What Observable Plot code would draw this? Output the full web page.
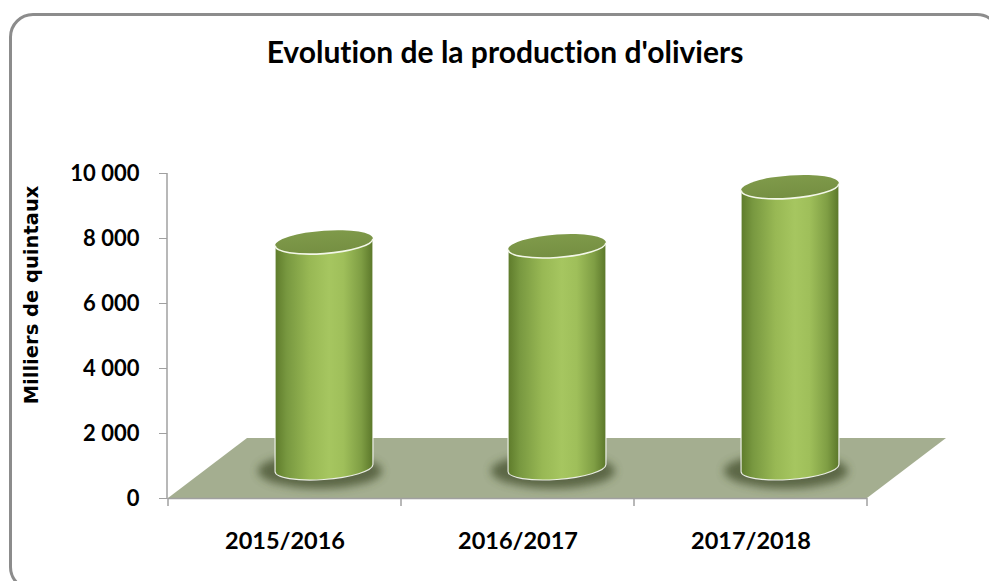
<!DOCTYPE html>
<html>
<head>
<meta charset="utf-8">
<script src="https://cdn.jsdelivr.net/npm/d3@7"></script>
<script src="https://cdn.jsdelivr.net/npm/@observablehq/plot@0.6"></script>
<style>
html, body { margin: 0; padding: 0; background: #fff; }
#wrap { position: relative; width: 989px; height: 581px; overflow: hidden; background: #fff; }
#chart { position: absolute; left: 0; top: 0; }
#chart svg text { font-variant-ligatures: none; }
#frame { position: absolute; left: 8.5px; top: 12.5px; width: 992.5px; height: 578.5px; border: 3px solid #8c8c8c; border-radius: 24px; box-sizing: border-box; pointer-events: none; }
#title { position: absolute; top: 33px; left: 505px; transform: translateX(-50%); font: bold 30px Lato, sans-serif; line-height: normal; white-space: nowrap; color: #000; font-variant-ligatures: none; }
</style>
</head>
<body>
<div id="wrap">
  <div id="chart"></div>
  <div id="frame"></div>
  <div id="title"></div>
</div>
<script>
// ---- data ----
const chartTitle = "Evolution de la production d'oliviers";
const yLabel = "Milliers de quintaux";
const categories = ["2015/2016", "2016/2017", "2017/2018"];
const production = [6950, 6830, 8650];
const yTicks = [0, 2000, 4000, 6000, 8000, 10000];

// ---- styling constants ----
const DEPTH_X = 79, DEPTH_Y = 60;   // 3D floor depth (pixels)
const TILT = -4;                    // perspective tilt of cylinder ends (degrees)
const AXIS_GREY = "#a0a0a0";

document.getElementById("title").textContent = chartTitle;

const fmt = d3.formatLocale({decimal: ",", thousands: "\u00a0", grouping: [3], currency: ["", "€"]}).format(",d");
const data = categories.map((c, i) => ({cat: c, value: production[i]}));

function bandOf(scales, dimensions) {
  const x = scales.x;
  let bw = x && (typeof x.bandwidth === "function" ? x.bandwidth() : x.bandwidth);
  if (!(bw > 0)) bw = (dimensions.width - dimensions.marginLeft - dimensions.marginRight) / categories.length;
  return bw;
}

// floor, front axis line, category boundary ticks, left axis line
function floorMark(index, scales, values, dimensions) {
  const bw = bandOf(scales, dimensions);
  const g = d3.create("svg:g").attr("aria-label", "floor");
  const x0 = scales.x(categories[0]);
  const x1 = scales.x(categories[categories.length - 1]) + bw;
  const y0 = scales.y(0);
  const yTop = scales.y(yTicks[yTicks.length - 1]);
  g.append("path")
    .attr("d", `M${x0},${y0}L${x1},${y0}L${x1 + DEPTH_X},${y0 - DEPTH_Y}L${x0 + DEPTH_X},${y0 - DEPTH_Y}Z`)
    .attr("fill", "#a4ae90");
  g.append("line").attr("x1", x0).attr("x2", x1).attr("y1", y0 + 0.5).attr("y2", y0 + 0.5)
    .attr("stroke", AXIS_GREY).attr("stroke-width", 1.5);
  const bounds = categories.map(c => scales.x(c)).concat([x1]);
  for (const bx of bounds) {
    g.append("line").attr("x1", bx).attr("x2", bx).attr("y1", y0).attr("y2", y0 + 8)
      .attr("stroke", AXIS_GREY).attr("stroke-width", 1.5);
  }
  g.append("line").attr("x1", x0 - 1).attr("x2", x0 - 1).attr("y1", yTop).attr("y2", y0 + 1)
    .attr("stroke", AXIS_GREY).attr("stroke-width", 1.5);
  return g.node();
}

// 3D cylinders
function cylinderMark(index, scales, values, dimensions) {
  const bw = bandOf(scales, dimensions);
  const g = d3.create("svg:g").attr("aria-label", "cylinders");
  const defs = g.append("defs");
  const grad = defs.append("linearGradient").attr("id", "cylGrad")
    .attr("x1", 0).attr("x2", 1).attr("y1", 0).attr("y2", 0);
  [[0, "#5e7b2b"], [0.12, "#789840"], [0.35, "#98b854"], [0.55, "#a6c660"],
   [0.7, "#9fbf5a"], [0.88, "#7f9e44"], [1, "#5b772a"]].forEach(([o, c]) =>
    grad.append("stop").attr("offset", o).attr("stop-color", c));
  const topGrad = defs.append("linearGradient").attr("id", "cylTop")
    .attr("x1", 0).attr("x2", 0).attr("y1", 0).attr("y2", 1);
  topGrad.append("stop").attr("offset", 0).attr("stop-color", "#7f9a4a");
  topGrad.append("stop").attr("offset", 1).attr("stop-color", "#758f42");
  const filt = defs.append("filter").attr("id", "cylShadow")
    .attr("x", "-50%").attr("y", "-50%").attr("width", "200%").attr("height", "200%");
  filt.append("feGaussianBlur").attr("stdDeviation", 4);

  data.forEach(d => {
    const rx = bw * 0.21;
    const ry = 11.5;
    const cx = scales.x(d.cat) + bw / 2 + DEPTH_X / 2;
    const yT = scales.y(d.value) - DEPTH_Y / 2;
    const yB = scales.y(0) - DEPTH_Y / 2;
    g.append("ellipse").attr("cx", cx - 4).attr("cy", yB + 3).attr("rx", rx + 13).attr("ry", ry + 6)
      .attr("fill", "#3c4a26").attr("opacity", 0.7).attr("filter", "url(#cylShadow)");
    const c = g.append("g").attr("transform", `translate(${cx},0) skewY(${TILT}) translate(${-cx},0)`);
    c.append("path")
      .attr("d", `M${cx - rx},${yT}L${cx - rx},${yB}A${rx},${ry} 0 0 0 ${cx + rx},${yB}L${cx + rx},${yT}Z`)
      .attr("fill", "url(#cylGrad)")
      .attr("stroke", "rgba(255,255,255,0.85)").attr("stroke-width", 1.2);
    c.append("ellipse").attr("cx", cx).attr("cy", yT).attr("rx", rx).attr("ry", ry)
      .attr("fill", "url(#cylTop)");
    c.append("path")
      .attr("d", `M${cx - rx},${yT}A${rx},${ry} 0 0 0 ${cx + rx},${yT}`)
      .attr("fill", "none").attr("stroke", "#f3f7e8").attr("stroke-width", 1.6);
  });
  return g.node();
}

const chart = Plot.plot({
  width: 989,
  height: 581,
  marginLeft: 167,
  marginRight: 121,
  marginTop: 173,
  marginBottom: 83,
  style: {fontFamily: "Lato, sans-serif", fontWeight: "bold", fontSize: "22px", color: "#000", background: "transparent", overflow: "visible"},
  x: {type: "band", domain: categories, padding: 0},
  y: {domain: [0, 10000]},
  marks: [
    floorMark,
    Plot.axisY(yTicks, {tickSize: 8, tickPadding: 20, tickFormat: fmt, stroke: AXIS_GREY, fill: "#000",
      fontSize: 22, fontFamily: "Lato, sans-serif", fontWeight: "bold", label: null}),
    Plot.axisX({tickSize: 0, tickPadding: 34, fill: "#000", fontSize: 23.5, fontFamily: "Lato, sans-serif",
      fontWeight: "bold", label: null}),
    Plot.text([yLabel], {text: d => d, frameAnchor: "left", dx: -136, dy: -41, rotate: -90, textAnchor: "middle",
      fontFamily: "'DejaVu Sans', sans-serif", fontSize: 19.5, fontWeight: "bold", fill: "#000"}),
    cylinderMark
  ]
});
document.getElementById("chart").appendChild(chart);
</script>
</body>
</html>
